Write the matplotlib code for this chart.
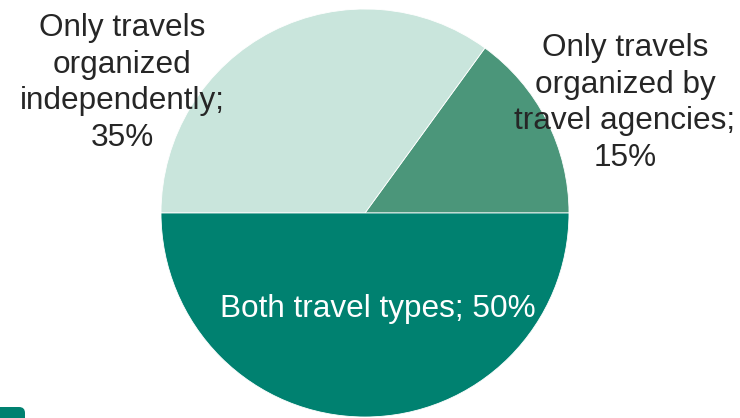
import matplotlib.pyplot as plt
from matplotlib.patches import FancyBboxPatch

plt.rcParams['font.family'] = ['Liberation Sans', 'DejaVu Sans']

# travel organisation shares, counter-clockwise from 3 o'clock
categories = ['Only travels\norganized by\ntravel agencies',
              'Only travels\norganized\nindependently',
              'Both travel types']
shares = [15, 35, 50]
colors = ['#4b967a', '#c9e5dc', '#008170']
text_colors = ['#262626', '#262626', 'white']
separators = [';\n', ';\n', '; ']

# label anchors in pixel space (figure is 740 x 418 px)
label_pos = [(625, 315), (122, 335), (378, 109)]

fig = plt.figure(figsize=(7.4, 4.18), dpi=100)
ax = fig.add_axes([0, 0, 1, 1])

wedges, _ = ax.pie(shares, colors=colors, startangle=0, counterclock=True,
                   radius=204, center=(365, 205),
                   wedgeprops=dict(edgecolor='white', linewidth=0.6))
ax.set_xlim(0, 740)
ax.set_ylim(0, 418)
ax.set_aspect('equal')
ax.axis('off')

for cat, val, sep, pos, tc in zip(categories, shares, separators, label_pos, text_colors):
    ax.text(pos[0], pos[1], f"{cat}{sep}{val}%", ha='center', va='center',
            fontsize=22.7, color=tc, linespacing=1.3)

# small tab peeking in at the lower-left corner
tab = FancyBboxPatch((-20, -20), 45, 31, boxstyle='round,pad=0,rounding_size=6',
                     fc='#008170', ec='none', clip_on=True)
ax.add_patch(tab)

fig.savefig('out.png', dpi=100)
